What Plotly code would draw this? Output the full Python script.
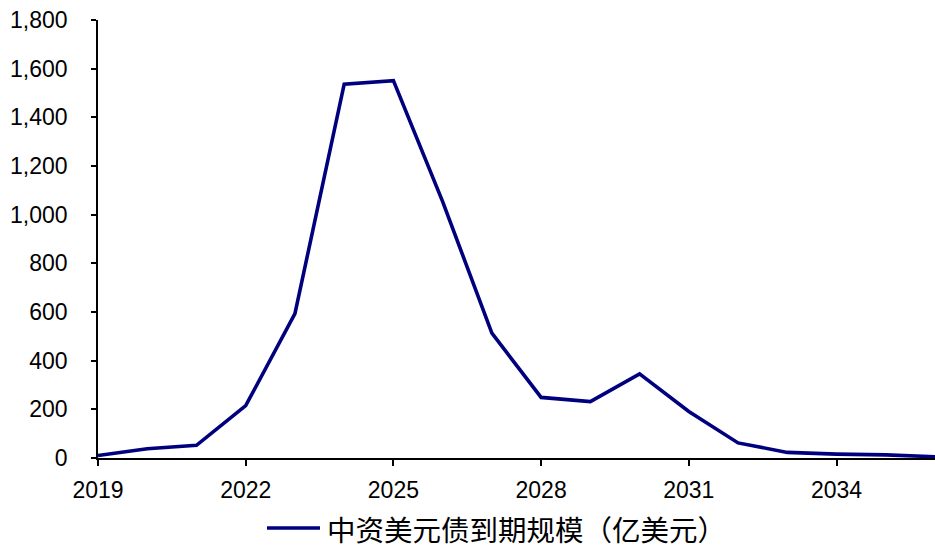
import plotly.graph_objects as go

# 中资美元债到期规模（亿美元）by maturity year
years = [2019, 2020, 2021, 2022, 2023, 2024, 2025, 2026, 2027,
         2028, 2029, 2030, 2031, 2032, 2033, 2034, 2035, 2036]
maturity = [10, 38, 52, 215, 593, 1536, 1551, 1054, 513,
            249, 232, 346, 191, 62, 23, 16, 13, 5]

x_ticks = [2019, 2022, 2025, 2028, 2031, 2034]
y_ticks = [0, 200, 400, 600, 800, 1000, 1200, 1400, 1600, 1800]
series_name = "中资美元债到期规模（亿美元）"

W, H = 935, 551
M_L, M_R, M_T, M_B = 98, 0, 20, 93
LINE_COLOR = "#00007f"

fig = go.Figure()
fig.add_trace(go.Scatter(
    x=years, y=maturity, mode="lines", name=series_name,
    line=dict(color=LINE_COLOR, width=3.6),
    showlegend=False,
))

axis_font = dict(family="Liberation Sans, Arial, sans-serif", size=23, color="#000000")

fig.update_xaxes(
    range=[2019, 2036], tickvals=x_ticks, ticktext=[str(v) for v in x_ticks],
    showgrid=False, zeroline=False,
    showline=True, linecolor="#000000", linewidth=1.5,
    ticks="outside", ticklen=6, tickwidth=1.5, tickcolor="#000000",
    tickfont=axis_font, ticklabelstandoff=5,
)
fig.update_yaxes(
    range=[0, 1800], tickvals=y_ticks, tickformat=",",
    showgrid=False, zeroline=False,
    showline=True, linecolor="#000000", linewidth=1.5,
    ticks="outside", ticklen=5, tickwidth=1.5, tickcolor="#000000",
    tickfont=axis_font, ticklabelstandoff=19,
)

# Legend drawn below the plot: a line swatch followed by the series name
legend_y = 1 - (528 - M_T) / (H - M_T - M_B)
fig.add_shape(
    type="line", xref="paper", yref="paper",
    x0=(267 - M_L) / (W - M_L - M_R), x1=(320 - M_L) / (W - M_L - M_R),
    y0=legend_y, y1=legend_y,
    line=dict(color=LINE_COLOR, width=3.6),
)
fig.add_annotation(
    xref="paper", yref="paper",
    x=(325 - M_L) / (W - M_L - M_R), y=legend_y,
    xanchor="left", yanchor="middle", showarrow=False,
    text=series_name,
    font=dict(family="Noto Sans CJK SC, sans-serif", size=28.5, color="#000000"),
)

fig.update_layout(
    width=W, height=H,
    margin=dict(l=M_L, r=M_R, t=M_T, b=M_B),
    plot_bgcolor="#ffffff", paper_bgcolor="#ffffff",
)

fig.write_html("out.html")
